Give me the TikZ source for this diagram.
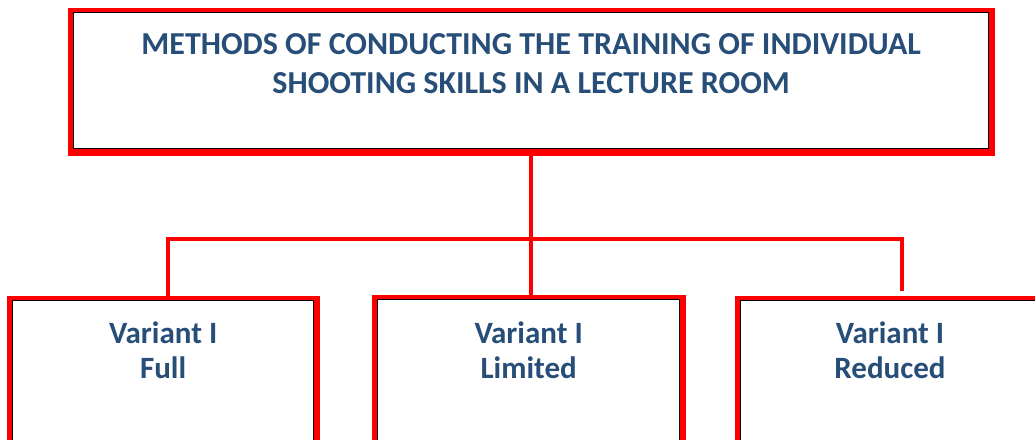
\documentclass[tikz,border=0pt]{standalone}
\usepackage{fontspec}
\setmainfont{Carlito}
\usetikzlibrary{backgrounds,calc}
\definecolor{titleblue}{RGB}{39,78,121}
\definecolor{framered}{RGB}{255,0,0}
\begin{document}
\begin{tikzpicture}[x=1pt,y=-1pt,
  box/.style={draw=black, line width=1.3pt, fill=white, rectangle, inner sep=0pt, anchor=north west},
  headtext/.style={text=titleblue, font=\bfseries\fontsize{32}{39}\selectfont, align=center, inner sep=0pt, anchor=base},
  varianttext/.style={text=titleblue, font=\bfseries\fontsize{31}{35}\selectfont, align=center, inner sep=0pt, anchor=base},
  link/.style={draw=framered, line width=4pt},
  ]
\path[use as bounding box] (0,0) rectangle (1035,439);
\clip (0,0) rectangle (1035,439);

% boxes (inner black outline)
\node[box, minimum width=915pt, minimum height=136pt] (top) at (73,12) {};
\node[box, minimum width=301pt, minimum height=200pt] (b1) at (12,300) {};
\node[box, minimum width=302pt, minimum height=200pt] (b2) at (377,299) {};
\node[box, minimum width=400pt, minimum height=200pt] (b3) at (740,300) {};

% connectors
\coordinate (cL) at (168,239);
\coordinate (cR) at (902,239);
\coordinate (rEnd) at (902,291);

\begin{scope}[on background layer]
  % red frames around the boxes
  \foreach \n in {top,b1,b2,b3}
    \fill[framered] ($(\n.north west)+(-5pt,4.5pt)$) rectangle ($(\n.south east)+(6pt,-7pt)$);
  \draw[link] (top.south) -- (top.south |- b2.north);
  \draw[link, line join=miter] (cL |- b1.north) -- (cL) -- (cR) -- (rEnd);
\end{scope}

% texts (anchored at the baseline of the last line)
\node[headtext] (title) at ($(top.north)+(0,81)$)
  {METHODS OF CONDUCTING THE TRAINING OF INDIVIDUAL\\SHOOTING SKILLS IN A LECTURE ROOM};
\node[varianttext] (t1) at ($(b1.north)+(0,78)$) {Variant I\\Full};
\node[varianttext] (t2) at ($(b2.north)+(0,79)$) {Variant I\\Limited};
\node[varianttext] (t3) at ($(b3.north west)+(150,78)$) {Variant I\\Reduced};
\end{tikzpicture}
\end{document}
